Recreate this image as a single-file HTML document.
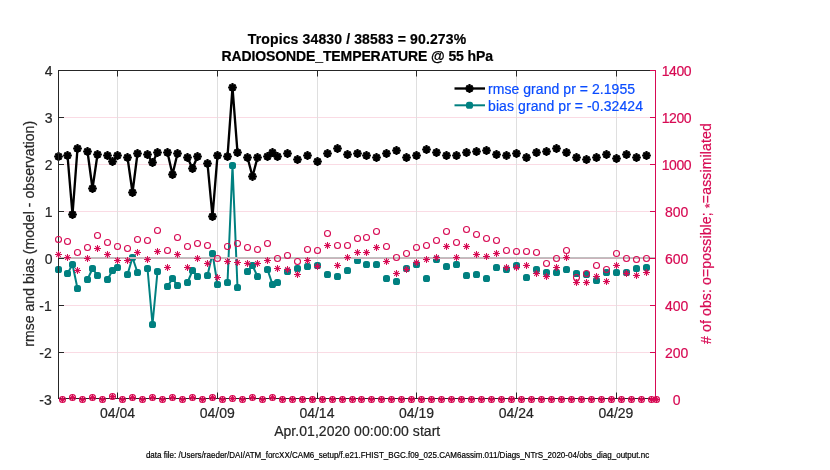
<!DOCTYPE html>
<html><head><meta charset="utf-8"><title>RADIOSONDE_TEMPERATURE @ 55 hPa</title>
<style>html,body{margin:0;padding:0;background:#fff}body{width:830px;height:470px;overflow:hidden;position:relative}</style></head>
<body>
<svg width="830" height="470" viewBox="0 0 830 470" style="position:absolute;left:0;top:0">
<defs>
<g id="bs"><path d="M-4.4 0H4.4M0 -4.4V4.4M-3.1 -3.1L3.1 3.1M-3.1 3.1L3.1 -3.1" stroke="#000" stroke-width="2.15" fill="none"/><circle r="3.3" fill="#000"/></g>
<g id="cs"><path d="M-3.5 0H3.5M0 -3.5V3.5M-2.3 -2.3L2.3 2.3M-2.3 2.3L2.3 -2.3" stroke="#d70a53" stroke-width="1.02" fill="none"/></g>
<circle id="co" r="3.0" stroke="#d70a53" stroke-width="1.1" fill="none"/>
<rect id="tm" x="-3.5" y="-3.5" width="7" height="7" rx="2.6" fill="#008080"/>
</defs>
<rect width="830" height="470" fill="#fff"/>
<path d="M58 352.5H656 M58 305.5H656 M58 258.5H656 M58 211.5H656 M58 164.5H656 M58 117.5H656" stroke="#fadbe4" stroke-width="1" fill="none"/>
<path d="M117.5 71V398 M217.5 71V398 M317.5 71V398 M416.5 71V398 M516.5 71V398 M616.5 71V398" stroke="#dfdfdf" stroke-width="1" fill="none"/>
<path d="M67.5 155.5 L72.5 214.5 L77.5 148.5 M87.5 151.5 L92.5 188.5 L97.5 154.5 M107.5 155.5 L112.5 161.5 L117.5 155.5 M127.5 157.5 L132.5 192.5 L137.5 153.5 M147.5 154.5 L152.5 162.5 L157.5 152.5 M167.5 152.5 L172.5 174.5 L177.5 153.5 M187.5 157.5 L192.5 168.5 L197.5 156.5 M207.5 163.5 L212.5 216.5 L217.5 155.5 M227.5 156.5 L232.5 87.5 L237.5 152.5 M247.5 157.5 L252.5 176.5 L257.5 157.5 M267.5 156.5 L272.5 152.5 L277.5 156.5" stroke="#000" stroke-width="2.35" fill="none" stroke-linejoin="miter"/>
<g><use href="#bs" x="58.5" y="156.5"/><use href="#bs" x="67.5" y="155.5"/><use href="#bs" x="72.5" y="214.5"/><use href="#bs" x="77.5" y="148.5"/><use href="#bs" x="87.5" y="151.5"/><use href="#bs" x="92.5" y="188.5"/><use href="#bs" x="97.5" y="154.5"/><use href="#bs" x="107.5" y="155.5"/><use href="#bs" x="112.5" y="161.5"/><use href="#bs" x="117.5" y="155.5"/><use href="#bs" x="127.5" y="157.5"/><use href="#bs" x="132.5" y="192.5"/><use href="#bs" x="137.5" y="153.5"/><use href="#bs" x="147.5" y="154.5"/><use href="#bs" x="152.5" y="162.5"/><use href="#bs" x="157.5" y="152.5"/><use href="#bs" x="167.5" y="152.5"/><use href="#bs" x="172.5" y="174.5"/><use href="#bs" x="177.5" y="153.5"/><use href="#bs" x="187.5" y="157.5"/><use href="#bs" x="192.5" y="168.5"/><use href="#bs" x="197.5" y="156.5"/><use href="#bs" x="207.5" y="163.5"/><use href="#bs" x="212.5" y="216.5"/><use href="#bs" x="217.5" y="155.5"/><use href="#bs" x="227.5" y="156.5"/><use href="#bs" x="232.5" y="87.5"/><use href="#bs" x="237.5" y="152.5"/><use href="#bs" x="247.5" y="157.5"/><use href="#bs" x="252.5" y="176.5"/><use href="#bs" x="257.5" y="157.5"/><use href="#bs" x="267.5" y="156.5"/><use href="#bs" x="272.5" y="152.5"/><use href="#bs" x="277.5" y="156.5"/><use href="#bs" x="287.5" y="153.5"/><use href="#bs" x="297.5" y="159.5"/><use href="#bs" x="307.5" y="155.5"/><use href="#bs" x="317.5" y="161.5"/><use href="#bs" x="327.5" y="153.5"/><use href="#bs" x="337.5" y="148.5"/><use href="#bs" x="347.5" y="154.5"/><use href="#bs" x="357.5" y="153.5"/><use href="#bs" x="366.5" y="155.5"/><use href="#bs" x="376.5" y="157.5"/><use href="#bs" x="386.5" y="153.5"/><use href="#bs" x="396.5" y="150.5"/><use href="#bs" x="406.5" y="157.5"/><use href="#bs" x="416.5" y="155.5"/><use href="#bs" x="426.5" y="149.5"/><use href="#bs" x="436.5" y="152.5"/><use href="#bs" x="446.5" y="155.5"/><use href="#bs" x="456.5" y="155.5"/><use href="#bs" x="466.5" y="152.5"/><use href="#bs" x="476.5" y="151.5"/><use href="#bs" x="486.5" y="150.5"/><use href="#bs" x="496.5" y="154.5"/><use href="#bs" x="506.5" y="155.5"/><use href="#bs" x="516.5" y="153.5"/><use href="#bs" x="526.5" y="157.5"/><use href="#bs" x="536.5" y="152.5"/><use href="#bs" x="546.5" y="151.5"/><use href="#bs" x="556.5" y="148.5"/><use href="#bs" x="566.5" y="152.5"/><use href="#bs" x="576.5" y="157.5"/><use href="#bs" x="586.5" y="159.5"/><use href="#bs" x="596.5" y="157.5"/><use href="#bs" x="606.5" y="154.5"/><use href="#bs" x="616.5" y="158.5"/><use href="#bs" x="626.5" y="154.5"/><use href="#bs" x="636.5" y="157.5"/><use href="#bs" x="646.5" y="155.5"/></g>
<path d="M67.5 273.5 L72.5 264.5 L77.5 288.5 M87.5 279.5 L92.5 268.5 L97.5 275.5 M107.5 279.5 L112.5 270.5 L117.5 267.5 M127.5 274.5 L132.5 257.5 L137.5 272.5 M147.5 268.5 L152.5 324.5 L157.5 271.5 M167.5 286.5 L172.5 278.5 L177.5 285.5 M187.5 282.5 L192.5 270.5 L197.5 276.5 M207.5 275.5 L212.5 253.5 L217.5 284.5 M227.5 282.5 L232.5 165.5 L237.5 287.5 M247.5 271.5 L252.5 265.5 L257.5 276.5 M267.5 269.5 L272.5 284.5 L277.5 282.5" stroke="#008080" stroke-width="2.0" fill="none" stroke-linejoin="miter"/>
<g><use href="#tm" x="58.5" y="269.5"/><use href="#tm" x="67.5" y="273.5"/><use href="#tm" x="72.5" y="264.5"/><use href="#tm" x="77.5" y="288.5"/><use href="#tm" x="87.5" y="279.5"/><use href="#tm" x="92.5" y="268.5"/><use href="#tm" x="97.5" y="275.5"/><use href="#tm" x="107.5" y="279.5"/><use href="#tm" x="112.5" y="270.5"/><use href="#tm" x="117.5" y="267.5"/><use href="#tm" x="127.5" y="274.5"/><use href="#tm" x="132.5" y="257.5"/><use href="#tm" x="137.5" y="272.5"/><use href="#tm" x="147.5" y="268.5"/><use href="#tm" x="152.5" y="324.5"/><use href="#tm" x="157.5" y="271.5"/><use href="#tm" x="167.5" y="286.5"/><use href="#tm" x="172.5" y="278.5"/><use href="#tm" x="177.5" y="285.5"/><use href="#tm" x="187.5" y="282.5"/><use href="#tm" x="192.5" y="270.5"/><use href="#tm" x="197.5" y="276.5"/><use href="#tm" x="207.5" y="275.5"/><use href="#tm" x="212.5" y="253.5"/><use href="#tm" x="217.5" y="284.5"/><use href="#tm" x="227.5" y="282.5"/><use href="#tm" x="232.5" y="165.5"/><use href="#tm" x="237.5" y="287.5"/><use href="#tm" x="247.5" y="271.5"/><use href="#tm" x="252.5" y="265.5"/><use href="#tm" x="257.5" y="276.5"/><use href="#tm" x="267.5" y="269.5"/><use href="#tm" x="272.5" y="284.5"/><use href="#tm" x="277.5" y="282.5"/><use href="#tm" x="287.5" y="271.5"/><use href="#tm" x="297.5" y="268.5"/><use href="#tm" x="307.5" y="266.5"/><use href="#tm" x="317.5" y="265.5"/><use href="#tm" x="327.5" y="274.5"/><use href="#tm" x="337.5" y="276.5"/><use href="#tm" x="347.5" y="270.5"/><use href="#tm" x="357.5" y="260.5"/><use href="#tm" x="366.5" y="264.5"/><use href="#tm" x="376.5" y="264.5"/><use href="#tm" x="386.5" y="278.5"/><use href="#tm" x="396.5" y="281.5"/><use href="#tm" x="406.5" y="268.5"/><use href="#tm" x="416.5" y="264.5"/><use href="#tm" x="426.5" y="278.5"/><use href="#tm" x="436.5" y="259.5"/><use href="#tm" x="446.5" y="266.5"/><use href="#tm" x="456.5" y="264.5"/><use href="#tm" x="466.5" y="275.5"/><use href="#tm" x="476.5" y="274.5"/><use href="#tm" x="486.5" y="278.5"/><use href="#tm" x="496.5" y="267.5"/><use href="#tm" x="506.5" y="269.5"/><use href="#tm" x="516.5" y="265.5"/><use href="#tm" x="526.5" y="277.5"/><use href="#tm" x="536.5" y="269.5"/><use href="#tm" x="546.5" y="272.5"/><use href="#tm" x="556.5" y="272.5"/><use href="#tm" x="566.5" y="269.5"/><use href="#tm" x="576.5" y="273.5"/><use href="#tm" x="586.5" y="274.5"/><use href="#tm" x="596.5" y="280.5"/><use href="#tm" x="606.5" y="272.5"/><use href="#tm" x="616.5" y="272.5"/><use href="#tm" x="626.5" y="272.5"/><use href="#tm" x="636.5" y="268.5"/><use href="#tm" x="646.5" y="267.5"/></g>
<path d="M58 257.5H656" stroke="#c0c0c0" stroke-width="1" fill="none"/><path d="M58 258.5H656" stroke="#ccb3bb" stroke-width="1" fill="none"/>
<path d="M58.5 70V399M58 70.5H656M58 398.5H656" stroke="#262626" stroke-width="1" fill="none"/>
<path d="M58 352.5H64 M58 305.5H64 M58 258.5H64 M58 211.5H64 M58 164.5H64 M58 117.5H64 M117.5 398V392.5M117.5 71V76.5 M217.5 398V392.5M217.5 71V76.5 M317.5 398V392.5M317.5 71V76.5 M416.5 398V392.5M416.5 71V76.5 M516.5 398V392.5M516.5 71V76.5 M616.5 398V392.5M616.5 71V76.5" stroke="#262626" stroke-width="1" fill="none"/>
<path d="M655.5 70V399 M650 398.5H656 M650 352.5H656 M650 305.5H656 M650 258.5H656 M650 211.5H656 M650 164.5H656 M650 117.5H656 M650 70.5H656" stroke="#d70a53" stroke-width="1" fill="none"/>
<g><use href="#co" x="58.5" y="239.5"/><use href="#co" x="62.5" y="399.5"/><use href="#co" x="67.5" y="241.5"/><use href="#co" x="72.5" y="397.5"/><use href="#co" x="77.5" y="252.5"/><use href="#co" x="82.5" y="399.5"/><use href="#co" x="87.5" y="247.5"/><use href="#co" x="92.5" y="397.5"/><use href="#co" x="97.5" y="235.5"/><use href="#co" x="102.5" y="399.5"/><use href="#co" x="107.5" y="242.5"/><use href="#co" x="112.5" y="396.5"/><use href="#co" x="117.5" y="246.5"/><use href="#co" x="122.5" y="399.5"/><use href="#co" x="127.5" y="248.5"/><use href="#co" x="132.5" y="397.5"/><use href="#co" x="137.5" y="239.5"/><use href="#co" x="142.5" y="399.5"/><use href="#co" x="147.5" y="240.5"/><use href="#co" x="152.5" y="397.5"/><use href="#co" x="157.5" y="230.5"/><use href="#co" x="162.5" y="399.5"/><use href="#co" x="167.5" y="250.5"/><use href="#co" x="172.5" y="397.5"/><use href="#co" x="177.5" y="237.5"/><use href="#co" x="182.5" y="399.5"/><use href="#co" x="187.5" y="246.5"/><use href="#co" x="192.5" y="397.5"/><use href="#co" x="197.5" y="243.5"/><use href="#co" x="202.5" y="399.5"/><use href="#co" x="207.5" y="245.5"/><use href="#co" x="212.5" y="397.5"/><use href="#co" x="217.5" y="258.5"/><use href="#co" x="222.5" y="399.5"/><use href="#co" x="227.5" y="246.5"/><use href="#co" x="232.5" y="398.5"/><use href="#co" x="237.5" y="243.5"/><use href="#co" x="242.5" y="399.5"/><use href="#co" x="247.5" y="247.5"/><use href="#co" x="252.5" y="397.5"/><use href="#co" x="257.5" y="249.5"/><use href="#co" x="262.5" y="399.5"/><use href="#co" x="267.5" y="243.5"/><use href="#co" x="272.5" y="397.5"/><use href="#co" x="277.5" y="258.5"/><use href="#co" x="282.5" y="399.5"/><use href="#co" x="287.5" y="255.5"/><use href="#co" x="292.5" y="399.5"/><use href="#co" x="297.5" y="261.5"/><use href="#co" x="302.5" y="399.5"/><use href="#co" x="307.5" y="249.5"/><use href="#co" x="312.5" y="399.5"/><use href="#co" x="317.5" y="250.5"/><use href="#co" x="322.5" y="399.5"/><use href="#co" x="327.5" y="233.5"/><use href="#co" x="332.5" y="399.5"/><use href="#co" x="337.5" y="245.5"/><use href="#co" x="342.5" y="399.5"/><use href="#co" x="347.5" y="245.5"/><use href="#co" x="352.5" y="399.5"/><use href="#co" x="357.5" y="238.5"/><use href="#co" x="361.5" y="399.5"/><use href="#co" x="366.5" y="237.5"/><use href="#co" x="371.5" y="399.5"/><use href="#co" x="376.5" y="231.5"/><use href="#co" x="381.5" y="399.5"/><use href="#co" x="386.5" y="246.5"/><use href="#co" x="391.5" y="399.5"/><use href="#co" x="396.5" y="257.5"/><use href="#co" x="401.5" y="399.5"/><use href="#co" x="406.5" y="253.5"/><use href="#co" x="411.5" y="399.5"/><use href="#co" x="416.5" y="247.5"/><use href="#co" x="421.5" y="399.5"/><use href="#co" x="426.5" y="245.5"/><use href="#co" x="431.5" y="399.5"/><use href="#co" x="436.5" y="240.5"/><use href="#co" x="441.5" y="399.5"/><use href="#co" x="446.5" y="231.5"/><use href="#co" x="451.5" y="399.5"/><use href="#co" x="456.5" y="242.5"/><use href="#co" x="461.5" y="399.5"/><use href="#co" x="466.5" y="229.5"/><use href="#co" x="471.5" y="399.5"/><use href="#co" x="476.5" y="234.5"/><use href="#co" x="481.5" y="399.5"/><use href="#co" x="486.5" y="238.5"/><use href="#co" x="491.5" y="399.5"/><use href="#co" x="496.5" y="240.5"/><use href="#co" x="501.5" y="399.5"/><use href="#co" x="506.5" y="250.5"/><use href="#co" x="511.5" y="399.5"/><use href="#co" x="516.5" y="251.5"/><use href="#co" x="521.5" y="399.5"/><use href="#co" x="526.5" y="251.5"/><use href="#co" x="531.5" y="399.5"/><use href="#co" x="536.5" y="252.5"/><use href="#co" x="541.5" y="399.5"/><use href="#co" x="546.5" y="263.5"/><use href="#co" x="551.5" y="399.5"/><use href="#co" x="556.5" y="258.5"/><use href="#co" x="561.5" y="399.5"/><use href="#co" x="566.5" y="250.5"/><use href="#co" x="571.5" y="399.5"/><use href="#co" x="576.5" y="277.5"/><use href="#co" x="581.5" y="399.5"/><use href="#co" x="586.5" y="273.5"/><use href="#co" x="591.5" y="399.5"/><use href="#co" x="596.5" y="265.5"/><use href="#co" x="601.5" y="399.5"/><use href="#co" x="606.5" y="269.5"/><use href="#co" x="611.5" y="399.5"/><use href="#co" x="616.5" y="253.5"/><use href="#co" x="621.5" y="399.5"/><use href="#co" x="626.5" y="258.5"/><use href="#co" x="631.5" y="399.5"/><use href="#co" x="636.5" y="259.5"/><use href="#co" x="641.5" y="399.5"/><use href="#co" x="646.5" y="258.5"/><use href="#co" x="651.5" y="399.5"/><use href="#co" x="656.5" y="399.5"/></g>
<g><use href="#cs" x="58.5" y="254.5"/><use href="#cs" x="62.5" y="399.5"/><use href="#cs" x="67.5" y="257.5"/><use href="#cs" x="72.5" y="397.5"/><use href="#cs" x="77.5" y="270.5"/><use href="#cs" x="82.5" y="399.5"/><use href="#cs" x="87.5" y="258.5"/><use href="#cs" x="92.5" y="397.5"/><use href="#cs" x="97.5" y="248.5"/><use href="#cs" x="102.5" y="399.5"/><use href="#cs" x="107.5" y="254.5"/><use href="#cs" x="112.5" y="396.5"/><use href="#cs" x="117.5" y="260.5"/><use href="#cs" x="122.5" y="399.5"/><use href="#cs" x="127.5" y="260.5"/><use href="#cs" x="132.5" y="397.5"/><use href="#cs" x="137.5" y="252.5"/><use href="#cs" x="142.5" y="399.5"/><use href="#cs" x="147.5" y="259.5"/><use href="#cs" x="152.5" y="397.5"/><use href="#cs" x="157.5" y="251.5"/><use href="#cs" x="162.5" y="399.5"/><use href="#cs" x="167.5" y="267.5"/><use href="#cs" x="172.5" y="397.5"/><use href="#cs" x="177.5" y="254.5"/><use href="#cs" x="182.5" y="399.5"/><use href="#cs" x="187.5" y="267.5"/><use href="#cs" x="192.5" y="397.5"/><use href="#cs" x="197.5" y="258.5"/><use href="#cs" x="202.5" y="399.5"/><use href="#cs" x="207.5" y="263.5"/><use href="#cs" x="212.5" y="397.5"/><use href="#cs" x="217.5" y="277.5"/><use href="#cs" x="222.5" y="399.5"/><use href="#cs" x="227.5" y="261.5"/><use href="#cs" x="232.5" y="398.5"/><use href="#cs" x="237.5" y="262.5"/><use href="#cs" x="242.5" y="399.5"/><use href="#cs" x="247.5" y="263.5"/><use href="#cs" x="252.5" y="397.5"/><use href="#cs" x="257.5" y="263.5"/><use href="#cs" x="262.5" y="399.5"/><use href="#cs" x="267.5" y="260.5"/><use href="#cs" x="272.5" y="397.5"/><use href="#cs" x="277.5" y="268.5"/><use href="#cs" x="282.5" y="399.5"/><use href="#cs" x="287.5" y="269.5"/><use href="#cs" x="292.5" y="399.5"/><use href="#cs" x="297.5" y="274.5"/><use href="#cs" x="302.5" y="399.5"/><use href="#cs" x="307.5" y="260.5"/><use href="#cs" x="312.5" y="399.5"/><use href="#cs" x="317.5" y="266.5"/><use href="#cs" x="322.5" y="399.5"/><use href="#cs" x="327.5" y="245.5"/><use href="#cs" x="332.5" y="399.5"/><use href="#cs" x="337.5" y="265.5"/><use href="#cs" x="342.5" y="399.5"/><use href="#cs" x="347.5" y="257.5"/><use href="#cs" x="352.5" y="399.5"/><use href="#cs" x="357.5" y="252.5"/><use href="#cs" x="361.5" y="399.5"/><use href="#cs" x="366.5" y="252.5"/><use href="#cs" x="371.5" y="399.5"/><use href="#cs" x="376.5" y="247.5"/><use href="#cs" x="381.5" y="399.5"/><use href="#cs" x="386.5" y="261.5"/><use href="#cs" x="391.5" y="399.5"/><use href="#cs" x="396.5" y="273.5"/><use href="#cs" x="401.5" y="399.5"/><use href="#cs" x="406.5" y="269.5"/><use href="#cs" x="411.5" y="399.5"/><use href="#cs" x="416.5" y="262.5"/><use href="#cs" x="421.5" y="399.5"/><use href="#cs" x="426.5" y="259.5"/><use href="#cs" x="431.5" y="399.5"/><use href="#cs" x="436.5" y="257.5"/><use href="#cs" x="441.5" y="399.5"/><use href="#cs" x="446.5" y="246.5"/><use href="#cs" x="451.5" y="399.5"/><use href="#cs" x="456.5" y="257.5"/><use href="#cs" x="461.5" y="399.5"/><use href="#cs" x="466.5" y="246.5"/><use href="#cs" x="471.5" y="399.5"/><use href="#cs" x="476.5" y="254.5"/><use href="#cs" x="481.5" y="399.5"/><use href="#cs" x="486.5" y="256.5"/><use href="#cs" x="491.5" y="399.5"/><use href="#cs" x="496.5" y="253.5"/><use href="#cs" x="501.5" y="399.5"/><use href="#cs" x="506.5" y="267.5"/><use href="#cs" x="511.5" y="399.5"/><use href="#cs" x="516.5" y="267.5"/><use href="#cs" x="521.5" y="399.5"/><use href="#cs" x="526.5" y="265.5"/><use href="#cs" x="531.5" y="399.5"/><use href="#cs" x="536.5" y="273.5"/><use href="#cs" x="541.5" y="399.5"/><use href="#cs" x="546.5" y="276.5"/><use href="#cs" x="551.5" y="399.5"/><use href="#cs" x="556.5" y="267.5"/><use href="#cs" x="561.5" y="399.5"/><use href="#cs" x="566.5" y="257.5"/><use href="#cs" x="571.5" y="399.5"/><use href="#cs" x="576.5" y="282.5"/><use href="#cs" x="581.5" y="399.5"/><use href="#cs" x="586.5" y="282.5"/><use href="#cs" x="591.5" y="399.5"/><use href="#cs" x="596.5" y="276.5"/><use href="#cs" x="601.5" y="399.5"/><use href="#cs" x="606.5" y="281.5"/><use href="#cs" x="611.5" y="399.5"/><use href="#cs" x="616.5" y="265.5"/><use href="#cs" x="621.5" y="399.5"/><use href="#cs" x="626.5" y="273.5"/><use href="#cs" x="631.5" y="399.5"/><use href="#cs" x="636.5" y="275.5"/><use href="#cs" x="641.5" y="399.5"/><use href="#cs" x="646.5" y="272.5"/><use href="#cs" x="651.5" y="399.5"/><use href="#cs" x="656.5" y="399.5"/></g>
<path d="M454.5 88.5H485" stroke="#000" stroke-width="2.35"/><use href="#bs" x="469.5" y="88.5"/>
<path d="M454.5 105.3H485" stroke="#008080" stroke-width="2.0"/><use href="#tm" x="469.5" y="105.3"/>
<g font-family="'Liberation Sans', Arial, Helvetica, sans-serif" font-size="14px" fill="#262626" stroke-width="0.2" stroke-linejoin="round">
<text stroke="#000" x="357" y="44.2" text-anchor="middle" font-weight="bold" fill="#000" textLength="218.3" lengthAdjust="spacing">Tropics 34830 / 38583 = 90.273%</text>
<text stroke="#000" x="357.2" y="61.1" text-anchor="middle" font-weight="bold" fill="#000" textLength="271.6" lengthAdjust="spacing">RADIOSONDE_TEMPERATURE @ 55 hPa</text>
<text stroke="#262626" x="51.8" y="404.5" text-anchor="end">-3</text>
<text stroke="#262626" x="51.8" y="357.5" text-anchor="end">-2</text>
<text stroke="#262626" x="51.8" y="310.5" text-anchor="end">-1</text>
<text stroke="#262626" x="52.5" y="263.5" text-anchor="end">0</text>
<text stroke="#262626" x="52.5" y="216.5" text-anchor="end">1</text>
<text stroke="#262626" x="52.5" y="169.5" text-anchor="end">2</text>
<text stroke="#262626" x="52.5" y="122.5" text-anchor="end">3</text>
<text stroke="#262626" x="52.5" y="75.5" text-anchor="end">4</text>
<text stroke="#262626" x="117.6" y="418" text-anchor="middle">04/04</text>
<text stroke="#262626" x="217.26" y="418" text-anchor="middle">04/09</text>
<text stroke="#262626" x="316.92" y="418" text-anchor="middle">04/14</text>
<text stroke="#262626" x="416.58" y="418" text-anchor="middle">04/19</text>
<text stroke="#262626" x="516.24" y="418" text-anchor="middle">04/24</text>
<text stroke="#262626" x="615.9" y="418" text-anchor="middle">04/29</text>
<text stroke="#262626" x="357.2" y="435.7" text-anchor="middle" textLength="166.1" lengthAdjust="spacing">Apr.01,2020 00:00:00 start</text>
<text stroke="#262626" transform="translate(34 233.85) rotate(-90)" text-anchor="middle" textLength="225.9" lengthAdjust="spacing">rmse and bias (model - observation)</text>
<text stroke="#d70a53" x="676.7" y="404.5" text-anchor="middle" fill="#d70a53">0</text>
<text stroke="#d70a53" x="676.7" y="357.5" text-anchor="middle" fill="#d70a53">200</text>
<text stroke="#d70a53" x="676.7" y="310.5" text-anchor="middle" fill="#d70a53">400</text>
<text stroke="#d70a53" x="676.7" y="263.5" text-anchor="middle" fill="#d70a53">600</text>
<text stroke="#d70a53" x="676.7" y="216.5" text-anchor="middle" fill="#d70a53">800</text>
<text stroke="#d70a53" x="676.7" y="169.5" text-anchor="middle" fill="#d70a53" textLength="29.9" lengthAdjust="spacing">1000</text>
<text stroke="#d70a53" x="676.7" y="122.5" text-anchor="middle" fill="#d70a53" textLength="29.9" lengthAdjust="spacing">1200</text>
<text stroke="#d70a53" x="676.7" y="75.5" text-anchor="middle" fill="#d70a53" textLength="29.9" lengthAdjust="spacing">1400</text>
<text stroke="#d70a53" transform="translate(710.7 233.65) rotate(-90)" text-anchor="middle" textLength="220.7" lengthAdjust="spacing" fill="#d70a53"># of obs: o=possible; <tspan dy="3.2" font-size="12.5px">*</tspan><tspan dy="-3.2">=assimilated</tspan></text>
<text stroke="#0a4cff" x="488" y="93.7" fill="#0a4cff" textLength="147.1" lengthAdjust="spacing">rmse grand pr = 2.1955</text>
<text stroke="#0a4cff" x="488" y="111.2" fill="#0a4cff" textLength="155" lengthAdjust="spacing">bias grand pr = -0.32424</text>
<text stroke="#000" x="397.55" y="457.6" text-anchor="middle" font-size="8.7px" fill="#000" textLength="503.3" lengthAdjust="spacingAndGlyphs">data file: /Users/raeder/DAI/ATM_forcXX/CAM6_setup/f.e21.FHIST_BGC.f09_025.CAM6assim.011/Diags_NTrS_2020-04/obs_diag_output.nc</text>
</g>
</svg>
</body></html>
